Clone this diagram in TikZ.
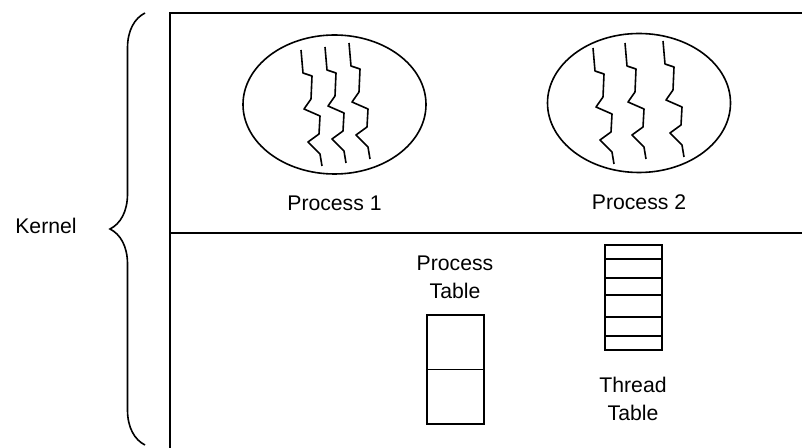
\documentclass[tikz,border=0pt]{standalone}
\usepackage{fontspec}
\setmainfont{Liberation Sans}
\usetikzlibrary{positioning, shapes.geometric, decorations.pathreplacing}

\begin{document}
\begin{tikzpicture}[
    x=0.5pt, y=-0.5pt,
    line width=0.8pt,
    font=\fontsize{10.6}{14}\selectfont,
    proc/.style={ellipse, draw, minimum width=91.5pt, minimum height=69.5pt, inner sep=0pt},
    tablebox/.style={rectangle, draw, minimum width=28.5pt, inner sep=0pt},
    lbl/.style={align=center},
    thread/.pic={
        \draw[line join=round] (0,0) -- (2,23) -- (11,26) -- (10,49) -- (3,59)
            -- (19,66) -- (18,84) -- (7,92) -- (19,104) -- (21,116);
    },
]
    \useasboundingbox (0,0) rectangle (802,448);

    % kernel frame, user part above the line
    \draw (802,13) -- (170,13) -- (170,448);
    \draw (170,233) -- (802,233);

    \coordinate (btop) at (145,13);
    \coordinate (bbot) at (145,445);
    \draw[decorate, decoration={brace, amplitude=17.5pt}] (bbot) -- (btop);
    \node (kernel) at (46,226) {Kernel};

    % processes with their threads
    \node[proc] (proc1) at (334.5,104.5) {};
    \node[proc] (proc2) at (639,103) {};
    \foreach \x/\y in {301/50, 325/47, 349/43, 593/48, 625/43, 663/41}
        \pic at (\x,\y) {thread};
    \node[below=7pt of proc1] (lbl1) {Process 1};
    \node[below=7pt of proc2] (lbl2) {Process 2};

    % tables in the kernel
    \node[tablebox, minimum height=54.5pt] (ptab) at (455.5,369.5) {};
    \draw (ptab.west) -- (ptab.east);
    \node[lbl] (ptablbl) at (455,277) {Process\\Table};

    \node[tablebox, minimum height=52.5pt] (ttab) at (633.5,297.5) {};
    \foreach \r in {259,278,295,317,336}
        \draw (ttab.west |- 0,\r) -- (ttab.east |- 0,\r);
    \node[lbl] (ttablbl) at (633,399) {Thread\\Table};
\end{tikzpicture}
\end{document}
